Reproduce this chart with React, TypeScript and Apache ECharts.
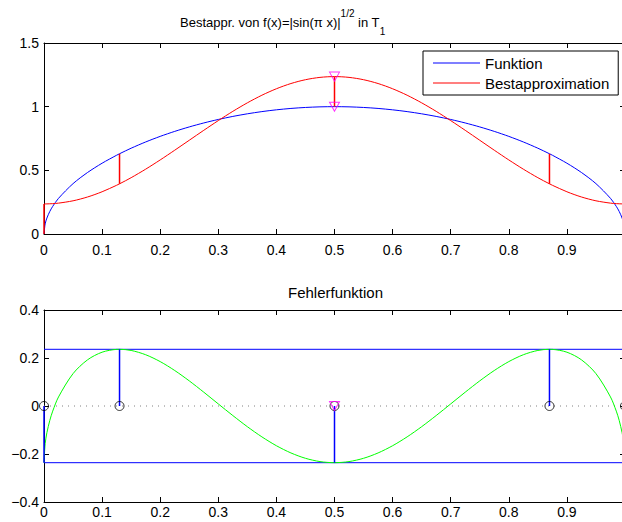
import React, { useEffect, useRef } from "react";
import * as echarts from "echarts";

// sample positions along x
const xs = [0, 0.002, 0.005, 0.01, 0.015, 0.025, 0.05, 0.075, 0.1, 0.125, 0.13, 0.15, 0.175, 0.2, 0.225, 0.25, 0.275, 0.3, 0.325, 0.35, 0.375, 0.4, 0.425, 0.45, 0.475, 0.5,
  0.525, 0.55, 0.575, 0.6, 0.625, 0.65, 0.675, 0.7, 0.725, 0.75, 0.775, 0.8, 0.825, 0.85, 0.87, 0.875, 0.9, 0.925, 0.95, 0.975, 0.985, 0.99, 0.995, 0.998, 1];

// f(x) = |sin(pi x)|^(1/2)
const funcVals = [0, 0.0793, 0.1253, 0.1772, 0.2170, 0.2801, 0.3955, 0.4832, 0.5559, 0.6186, 0.6302, 0.6738, 0.7228, 0.7667, 0.8059, 0.8409, 0.8720, 0.8995, 0.9234, 0.9439, 0.9612, 0.9752, 0.9861, 0.9938, 0.9985, 1.0,
  0.9985, 0.9938, 0.9861, 0.9752, 0.9612, 0.9439, 0.9234, 0.8995, 0.8720, 0.8409, 0.8059, 0.7667, 0.7228, 0.6738, 0.6302, 0.6186, 0.5559, 0.4832, 0.3955, 0.2801, 0.2170, 0.1772, 0.1253, 0.0793, 0];

// best approximation in T1 (red curve)
const approxVals = [0.2362, 0.2362, 0.2364, 0.2372, 0.2384, 0.2424, 0.2607, 0.2907, 0.3317, 0.3827, 0.3939, 0.4423, 0.5092, 0.5817, 0.6580, 0.7362, 0.8144, 0.8907, 0.9632, 1.0301, 1.0898, 1.1407, 1.1817, 1.2117, 1.2300, 1.2362,
  1.2300, 1.2117, 1.1817, 1.1407, 1.0898, 1.0301, 0.9632, 0.8907, 0.8144, 0.7362, 0.6580, 0.5817, 0.5092, 0.4423, 0.3939, 0.3827, 0.3317, 0.2907, 0.2607, 0.2424, 0.2384, 0.2372, 0.2364, 0.2362, 0.2362];

// error function (green curve)
const errVals = [-0.2362, -0.1570, -0.1111, -0.0600, -0.0214, 0.0378, 0.1349, 0.1925, 0.2242, 0.2360, 0.2363, 0.2315, 0.2136, 0.1850, 0.1479, 0.1047, 0.0576, 0.0087, -0.0398, -0.0862, -0.1286, -0.1655, -0.1956, -0.2179, -0.2316, -0.2362,
  -0.2316, -0.2179, -0.1956, -0.1655, -0.1286, -0.0862, -0.0398, 0.0087, 0.0576, 0.1047, 0.1479, 0.1850, 0.2136, 0.2315, 0.2363, 0.2360, 0.2242, 0.1925, 0.1349, 0.0378, -0.0214, -0.0600, -0.1111, -0.1570, -0.2362];

// extremal (alternation) points
const extremX = [0, 0.13, 0.5, 0.87, 1];
const extremF = [0, 0.6302, 1.0, 0.6302, 0];
const extremP = [0.2362, 0.3939, 1.2362, 0.3939, 0.2362];
const extremErr = [-0.2362, 0.2363, -0.2362, 0.2363, -0.2362];
const errLevel = 0.2362;
const markX = 0.5;

const FONT = "'Liberation Sans', Arial, Helvetica, sans-serif";

function xAxis(gridIndex: number, position: string, showLabel: boolean, margin: number) {
  return {
    type: "value",
    gridIndex,
    position,
    min: 0,
    max: 1,
    interval: 0.1,
    axisLine: { show: true, onZero: false, lineStyle: { color: "#000", width: 1 } },
    axisTick: { show: true, inside: true, length: 5, lineStyle: { color: "#000", width: 1 } },
    axisLabel: {
      show: showLabel,
      color: "#000",
      fontSize: 14,
      fontFamily: FONT,
      margin,
      formatter: (v: number) => (v >= 0.999 ? "" : String(Number(v.toFixed(1)))),
    },
    splitLine: { show: false },
  };
}

function yAxis(gridIndex: number, position: string, showLabel: boolean, min: number, max: number, interval: number) {
  return {
    type: "value",
    gridIndex,
    position,
    min,
    max,
    interval,
    axisLine: { show: true, onZero: false, lineStyle: { color: "#000", width: 1 } },
    axisTick: { show: true, inside: true, length: 5, lineStyle: { color: "#000", width: 1 } },
    axisLabel: {
      show: showLabel,
      color: "#000",
      fontSize: 14,
      fontFamily: FONT,
      margin: 5,
      formatter: (v: number) => String(Number(v.toFixed(1))).replace("-", "\u2212"),
    },
    splitLine: { show: false },
  };
}

// segments: each row = [x1, y1, x2, y2]
function segments(xi: number, yi: number, rows: number[][], color: string, z: number, width: number, dash?: number[]) {
  return {
    type: "custom",
    xAxisIndex: xi,
    yAxisIndex: yi,
    data: rows,
    silent: true,
    clip: false,
    z,
    renderItem: (_params: any, api: any) => {
      const p1 = api.coord([api.value(0), api.value(1)]);
      const p2 = api.coord([api.value(2), api.value(3)]);
      return {
        type: "line",
        shape: { x1: p1[0], y1: p1[1], x2: p2[0], y2: p2[1] },
        style: { stroke: color, lineWidth: width, fill: "none", lineDash: dash || null },
      };
    },
  };
}

export default function App() {
  const ref = useRef<HTMLDivElement>(null);
  useEffect(() => {
    const chart = echarts.init(ref.current!, undefined, { renderer: "svg" });
    const option: any = {
      animation: false,
      backgroundColor: "#fff",
      textStyle: { fontFamily: FONT },
      title: [
        {
          left: 180,
          top: 8,
          padding: 0,
          text: "{a|Bestappr. von f(x)=|sin(\u03c0 x)|}{sup|1/2}{a| in T}{sub|1}",
          textStyle: {
            fontWeight: "normal",
            rich: {
              a: { fontSize: 13, fontWeight: "normal", color: "#000", lineHeight: 28, verticalAlign: "middle", fontFamily: FONT },
              sup: { fontSize: 10, fontWeight: "normal", color: "#000", lineHeight: 14, verticalAlign: "top", fontFamily: FONT },
              sub: { fontSize: 10, fontWeight: "normal", color: "#000", lineHeight: 12, verticalAlign: "bottom", fontFamily: FONT },
            },
          },
        },
        {
          left: 288,
          top: 285,
          padding: 0,
          text: "Fehlerfunktion",
          textStyle: { fontSize: 15, fontWeight: "normal", color: "#000", fontFamily: FONT },
        },
      ],
      legend: {
        show: true,
        orient: "vertical",
        left: 423,
        top: 51,
        data: [
          { name: "Funktion", icon: "rect" },
          { name: "Bestapproximation", icon: "rect" },
        ],
        itemWidth: 47,
        itemHeight: 1,
        itemGap: 2,
        padding: [3, 9, 3, 10],
        borderColor: "#000",
        borderWidth: 1,
        borderRadius: 0,
        backgroundColor: "#fff",
        selectedMode: false,
        textStyle: { fontSize: 15, color: "#000", lineHeight: 18, fontFamily: FONT },
      },
      grid: [
        { left: 44, top: 43, width: 581, height: 191, outerBoundsMode: "none", containLabel: false },
        { left: 44, top: 310, width: 581, height: 192, outerBoundsMode: "none", containLabel: false },
      ],
      xAxis: [xAxis(0, "bottom", true, 9), xAxis(0, "top", false, 9), xAxis(1, "bottom", true, 3), xAxis(1, "top", false, 3)],
      yAxis: [
        yAxis(0, "left", true, 0, 1.5, 0.5),
        yAxis(0, "right", false, 0, 1.5, 0.5),
        yAxis(1, "left", true, -0.4, 0.4, 0.2),
        yAxis(1, "right", false, -0.4, 0.4, 0.2),
      ],
      series: [
        {
          type: "line",
          name: "Funktion",
          xAxisIndex: 0,
          yAxisIndex: 0,
          data: xs.map((x, i) => [x, funcVals[i]]),
          showSymbol: false,
          symbol: "none",
          smooth: 0.3,
          clip: false,
          color: "#0000ff",
          lineStyle: { color: "#0000ff", width: 1 },
          z: 3,
        },
        {
          type: "line",
          name: "Bestapproximation",
          xAxisIndex: 0,
          yAxisIndex: 0,
          data: xs.map((x, i) => [x, approxVals[i]]),
          showSymbol: false,
          symbol: "none",
          smooth: 0.3,
          clip: false,
          color: "#ff0000",
          lineStyle: { color: "#ff0000", width: 1 },
          z: 3,
        },
        segments(0, 0, extremX.map((x, i) => [x, extremF[i], x, extremP[i]]), "#ff0000", 4, 1.5),
        {
          type: "scatter",
          xAxisIndex: 0,
          yAxisIndex: 0,
          data: [[markX, extremP[2]], [markX, extremF[2]]],
          symbol: "triangle",
          symbolRotate: 180,
          symbolSize: [10, 9],
          itemStyle: { color: "rgba(0,0,0,0)", borderColor: "#ff00ff", borderWidth: 1 },
          clip: false,
          z: 5,
        },
        // bottom plot
        segments(2, 2, [[0, 0, 1, 0]], "#808080", 2, 1, [1, 5]),
        {
          type: "line",
          xAxisIndex: 2,
          yAxisIndex: 2,
          data: xs.map((x, i) => [x, errVals[i]]),
          showSymbol: false,
          symbol: "none",
          smooth: 0.3,
          clip: false,
          lineStyle: { color: "#00ff00", width: 1 },
          z: 3,
        },
        segments(2, 2, [[0, errLevel, 1, errLevel], [0, -errLevel, 1, -errLevel]], "#0000ff", 3, 1),
        segments(2, 2, extremX.map((x, i) => [x, 0, x, extremErr[i]]), "#0000ff", 4, 1.5),
        {
          type: "scatter",
          xAxisIndex: 2,
          yAxisIndex: 2,
          data: extremX.map((x) => [x, 0]),
          symbol: "circle",
          symbolSize: 9,
          itemStyle: { color: "rgba(0,0,0,0)", borderColor: "#000", borderWidth: 1 },
          clip: false,
          z: 5,
        },
        {
          type: "scatter",
          xAxisIndex: 2,
          yAxisIndex: 2,
          data: [[markX, 0]],
          symbol: "triangle",
          symbolRotate: 180,
          symbolSize: [10, 9],
          itemStyle: { color: "rgba(0,0,0,0)", borderColor: "#ff00ff", borderWidth: 1 },
          clip: false,
          z: 6,
        },
      ],
    };
    chart.setOption(option);
    return () => chart.dispose();
  }, []);
  return (
    <div
      ref={ref}
      style={{ position: "fixed", left: 0, top: 0, width: 622, height: 522, background: "#fff" }}
    />
  );
}
